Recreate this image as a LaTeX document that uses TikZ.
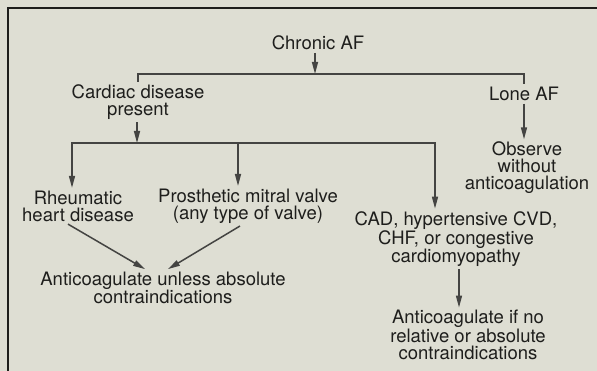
\documentclass[tikz,border=0pt]{standalone}
\usepackage{fontspec}
\setmainfont{TeX Gyre Heros}
\usetikzlibrary{arrows.meta,calc,positioning}
\definecolor{paper}{RGB}{222,222,211}
\definecolor{ink}{RGB}{30,30,28}
\definecolor{wire}{RGB}{68,68,66}
\tikzset {
  >={Triangle[length=12pt,width=6pt]},
  every node/.style={font=\fontsize{18.5}{17}\selectfont, text=ink, align=center, inner sep=2pt},
}

\begin{document}
\begin{tikzpicture}[x=1pt,y=-1pt,line width=1.5pt]
  \fill[paper] (0,0) rectangle (597,371);
  \useasboundingbox (0,0) rectangle (597,371);
  \draw[ink,line width=2pt] (8,371) -- (8,8) -- (597,8);
  \node (chronic) at (318,43) {Chronic AF};
  \node (cardiac) at (138,102) {Cardiac disease\\present};
  \node (lone) at (524,94) {Lone AF};
  \node (observe) at (527,168) {Observe\\without\\anticoagulation};
  \node (rheum) at (78,206) {Rheumatic\\heart disease};
  \node (prosth) at (248,206) {Prosthetic mitral valve\\(any type of valve)};
  \node (anticoag) at (163,288) {Anticoagulate unless absolute\\contraindications};
  \node (cad) at (456,239) {CAD, hypertensive CVD,\\CHF, or congestive\\cardiomyopathy};
  \node (anticoagif) at (468,335) {Anticoagulate if no\\relative or absolute\\contraindications};
  \coordinate (bar1) at (315,74);
  \coordinate (bar2) at (137,143);
  \begin{scope}[wire]
    \draw[->] (chronic.south -| bar1) -- (bar1);
    \draw (cardiac.north) |- (bar1) -| (lone.north);
    \draw[->] (lone.south) -- (lone.south |- observe.north);
    \draw[->] (cardiac.south -| bar2) -- (bar2);
    \draw[->] (bar2) -| ([xshift=-6pt]rheum.north);
    \draw[->] (bar2) -| ([xshift=-21pt]cad.north);
    \draw[->] ([xshift=-10pt]prosth.north |- bar2) -- ([xshift=-10pt]prosth.north);
    \draw[->] ([xshift=-10pt]rheum.south) -- ([xshift=-18pt]anticoag.north);
    \draw[->] ([xshift=-8pt]prosth.south) -- ([xshift=5pt]anticoag.north);
    \draw[->] ([xshift=3pt]cad.south) -- ([xshift=3pt]cad.south |- anticoagif.north);
  \end{scope}
\end{tikzpicture}
\end{document}
